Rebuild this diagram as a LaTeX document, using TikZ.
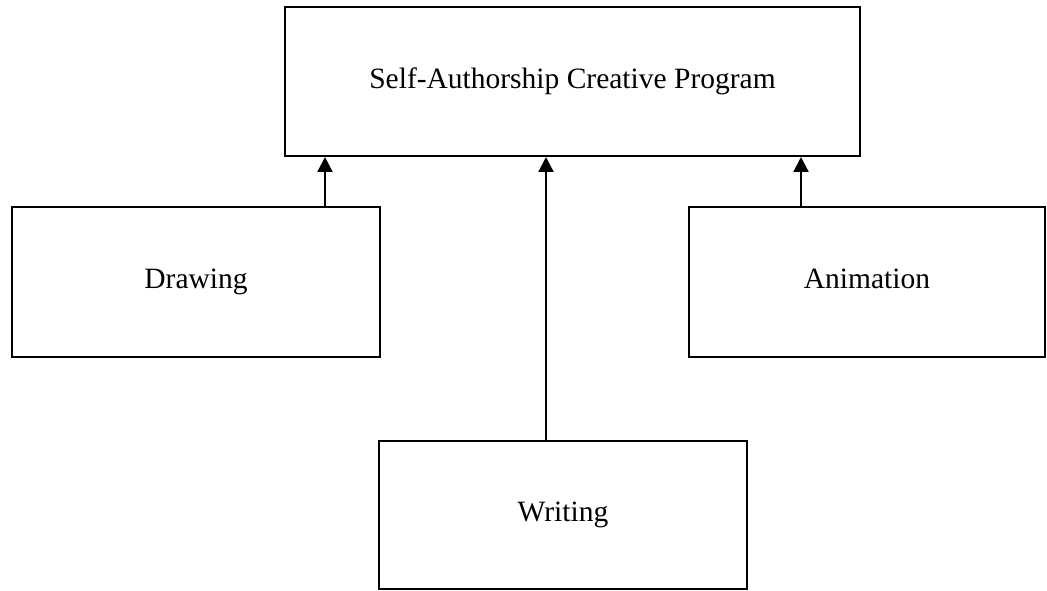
\documentclass[tikz,border=0pt]{standalone}
\usepackage{fontspec}
\setmainfont{Liberation Serif}
\usetikzlibrary{arrows.meta}
\begin{document}
\begin{tikzpicture}[x=1pt,y=-1pt,
  box/.style={draw,line width=2pt,rectangle,inner sep=0pt,font=\fontsize{29.5}{34}\selectfont},
  conn/.style={line width=2.2pt,-{Triangle[width=15pt,length=15pt]}}]
\useasboundingbox (0,0) rectangle (1047,591);
\node[box,minimum width=575pt,minimum height=149pt] (top) at (572.5,81.5) {\raisebox{4pt}{Self-Authorship Creative Program}};
\node[box,minimum width=368pt,minimum height=150pt] (draw) at (196,282) {\raisebox{6pt}{Drawing}};
\node[box,minimum width=356pt,minimum height=150pt] (anim) at (867,282) {\raisebox{7pt}{Animation}};
\node[box,minimum width=368pt,minimum height=148pt] (write) at (563,515) {\raisebox{2pt}{Writing}};
\coordinate (xd) at (325,0);
\coordinate (xw) at (546,0);
\coordinate (xa) at (801,0);
\draw[conn] (draw.north -| xd) -- (top.south -| xd);
\draw[conn] (write.north -| xw) -- (top.south -| xw);
\draw[conn] (anim.north -| xa) -- (top.south -| xa);
\end{tikzpicture}
\end{document}
